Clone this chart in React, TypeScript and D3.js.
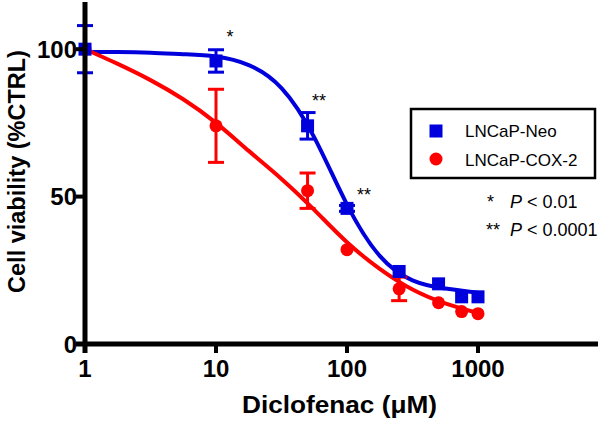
import React from "react";
import * as d3 from "d3";

const concentrations = [1, 10, 50, 100, 250, 500, 750, 1000];
const neoMean = [100, 96, 74, 46, 24.6, 20.4, 16, 16];
const neoErr = [8, 3.8, 4.5, 1, 0, 0, 0, 0];
const coxMean = [100, 74, 52, 32, 18.7, 14, 11, 10.3];
const coxErr = [0, 12.4, 6, 0, 4, 0, 0, 0];

// fitted curves
const fitX = [1, 1.778, 3.162, 5.623, 10, 17.78, 31.62, 56.23, 100, 177.8, 316.2, 562.3, 1000];
const neoFitY = [99, 99, 98.8, 98.3, 97.5, 94.6, 86.8, 70.1, 47.3, 29.9, 21.6, 18.8, 17.4];
const coxFitY = [100, 95, 89.5, 83, 75, 65.5, 56, 45.5, 34.5, 25.5, 18.5, 13.8, 10.5];

const xTicks = [1, 10, 100, 1000];
const yTicks = [0, 50, 100];
const seriesNames = ["LNCaP-Neo", "LNCaP-COX-2"];
const neoStars = ["", "*", "**", "**", "", "", "", ""];

const BLUE = "#0000dd";
const RED = "#ff0000";
const FONT = "Arial, 'Liberation Sans', Helvetica, sans-serif";

export default function App() {
  const x = d3.scaleLog().domain([1, 1000]).range([85, 478]);
  const y = d3.scaleLinear().domain([0, 116]).range([344, 2]);
  const xEnd = 598;

  const line = d3
    .line<[number, number]>()
    .x((d) => x(d[0]))
    .y((d) => y(d[1]))
    .curve(d3.curveNatural);

  const neoPath = line(fitX.map((v, i) => [v, neoFitY[i]]) as [number, number][]) || "";
  const coxPath = line(fitX.map((v, i) => [v, coxFitY[i]]) as [number, number][]) || "";

  const capW = 8;

  const errBars = (mean: number[], err: number[], color: string) =>
    concentrations.map((c, i) =>
      err[i] > 0 ? (
        <g key={"e" + i} stroke={color} strokeWidth={3}>
          <line x1={x(c)} x2={x(c)} y1={y(mean[i] + err[i])} y2={y(mean[i] - err[i])} />
          <line x1={x(c) - capW} x2={x(c) + capW} y1={y(mean[i] + err[i])} y2={y(mean[i] + err[i])} />
          <line x1={x(c) - capW} x2={x(c) + capW} y1={y(mean[i] - err[i])} y2={y(mean[i] - err[i])} />
        </g>
      ) : null
    );

  return (
    <svg
      width={600}
      height={422}
      style={{ position: "absolute", left: 0, top: 0, background: "#fff" }}
      fontFamily={FONT}
    >
      <rect x={0} y={0} width={600} height={422} fill="#fff" />

      {/* curves */}
      <path d={neoPath} fill="none" stroke={BLUE} strokeWidth={4} />
      <path d={coxPath} fill="none" stroke={RED} strokeWidth={4} />

      {/* red series */}
      {errBars(coxMean, coxErr, RED)}
      {concentrations.map((c, i) => (
        <circle key={"c" + i} cx={x(c)} cy={y(coxMean[i])} r={6.5} fill={RED} />
      ))}

      {/* blue series */}
      {errBars(neoMean, neoErr, BLUE)}
      {concentrations.map((c, i) => (
        <rect key={"s" + i} x={x(c) - 6.5} y={y(neoMean[i]) - 6.5} width={13} height={13} fill={BLUE} />
      ))}

      {/* significance stars */}
      <text x={230} y={43} fontSize={18} textAnchor="middle" fill="#000">{neoStars[1]}</text>
      <text x={319} y={107} fontSize={18} textAnchor="middle" fill="#000">{neoStars[2]}</text>
      <text x={364} y={201} fontSize={18} textAnchor="middle" fill="#000">{neoStars[3]}</text>

      {/* axes */}
      <g stroke="#000" strokeWidth={5}>
        <line x1={x(1)} x2={x(1)} y1={2} y2={353} />
        <line x1={76} x2={xEnd} y1={y(0)} y2={y(0)} />
      </g>
      <g stroke="#000" strokeWidth={4}>
        {yTicks.map((t) => (
          <line key={"yt" + t} x1={76} x2={x(1)} y1={y(t)} y2={y(t)} />
        ))}
        {xTicks.map((t) => (
          <line key={"xt" + t} x1={x(t)} x2={x(t)} y1={y(0)} y2={353} />
        ))}
      </g>
      {yTicks.map((t) => (
        <text key={"yl" + t} x={77} y={y(t)} dy="0.36em" fontSize={24} fontWeight="bold" textAnchor="end" fill="#000">
          {t}
        </text>
      ))}
      {xTicks.map((t) => (
        <text key={"xl" + t} x={x(t)} y={377} fontSize={24} fontWeight="bold" textAnchor="middle" fill="#000">
          {t}
        </text>
      ))}

      <text x={339.5} y={413} fontSize={24} fontWeight="bold" textAnchor="middle" fill="#000" textLength={195} lengthAdjust="spacingAndGlyphs">
        Diclofenac (μM)
      </text>
      <text
        transform="translate(25,171.5) rotate(-90)"
        fontSize={23.5}
        fontWeight="bold"
        textAnchor="middle"
        fill="#000"
      >
        Cell viability (%CTRL)
      </text>

      {/* legend */}
      <rect x={411} y={109} width={184} height={69} fill="#fff" stroke="#000" strokeWidth={2.5} />
      <rect x={429.5} y={124.5} width={13} height={13} fill={BLUE} />
      <circle cx={436} cy={159} r={6.5} fill={RED} />
      <text x={465} y={137} fontSize={17} fill="#000">{seriesNames[0]}</text>
      <text x={465} y={165.5} fontSize={17} fill="#000">{seriesNames[1]}</text>

      {/* p-value notes */}
      <text x={487} y={208} fontSize={18} fill="#000">*</text>
      <text x={510} y={208} fontSize={18} fill="#000">
        <tspan fontStyle="italic">P</tspan> &lt; 0.01
      </text>
      <text x={486} y={236} fontSize={18} fill="#000">**</text>
      <text x={510} y={236} fontSize={18} fill="#000">
        <tspan fontStyle="italic">P</tspan> &lt; 0.0001
      </text>
    </svg>
  );
}
